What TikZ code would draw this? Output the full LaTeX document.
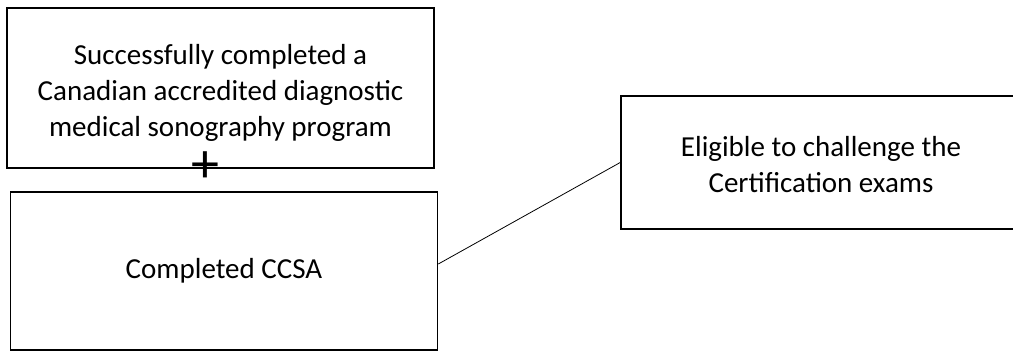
\documentclass[tikz,border=0pt]{standalone}
\usepackage{fontspec}
\setmainfont{Carlito}
\begin{document}
\begin{tikzpicture}[x=1bp,y=-1bp,
  boxstyle/.style={draw=black, line width=1.6bp, fill=white, rectangle, inner sep=0pt, align=center,
    font=\fontsize{29bp}{36bp}\selectfont},
  linkstyle/.style={draw=black, line width=0.8bp}]
\useasboundingbox (0,0) rectangle (1013,352);
\fill[white] (0,0) rectangle (1013,352);
\node[boxstyle, minimum width=427bp, minimum height=160bp] (b1) at (220.5,88) {};
\node[boxstyle, minimum width=427bp, minimum height=158bp] (b2) at (224,271) {Completed CCSA};
\node[boxstyle, minimum width=400bp, minimum height=133bp] (b3) at (821,162.5) {};
\node[align=center, inner sep=0pt, font=\fontsize{29bp}{36bp}\selectfont] (t1) at (220.5,93)
  {Successfully completed a\\Canadian accredited diagnostic\\medical sonography program};
\node[align=center, inner sep=0pt, font=\fontsize{29bp}{36bp}\selectfont] (t3) at (821,165)
  {Eligible to challenge the\\Certification exams};
\node[inner sep=0pt, font=\fontsize{56bp}{60bp}\selectfont] (plus) at (205,167) {+};
\draw[linkstyle] ([yshift=7bp]b2.east) -- (b3.west);
\end{tikzpicture}
\end{document}
